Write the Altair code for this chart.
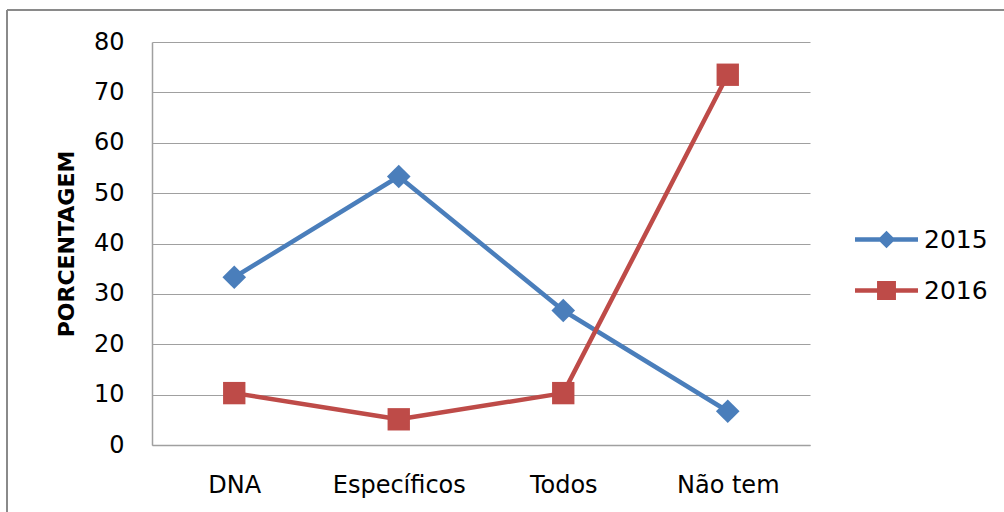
import altair as alt
import pandas as pd

# Categories on the x axis and the two yearly series (percent)
categorias = ["DNA", "Específicos", "Todos", "Não tem"]
anos = ["2015", "2016"]
valores_2015 = [33.3, 53.3, 26.7, 6.7]
valores_2016 = [10.3, 5.1, 10.3, 73.5]
ticks_y = [0, 10, 20, 30, 40, 50, 60, 70, 80]
cores = ["#4A7EBB", "#BE4B48"]

linhas = []
for ano, vals in zip(anos, [valores_2015, valores_2016]):
    for cat, v in zip(categorias, vals):
        linhas.append({"Categoria": cat, "Ano": ano, "Valor": v})
df = pd.DataFrame(linhas)

FONTE = "DejaVu Sans"
W, H = 658, 403
PAD_L, PAD_T = 152, 42

# legend symbols: a horizontal line with the series marker in the middle
simbolo_losango = "M-1,-0.07H1V0.07H-1Z M0,-0.28L0.28,0L0,0.28L-0.28,0Z"
simbolo_quadrado = "M-1,-0.07H1V0.07H-1Z M-0.3,-0.3H0.3V0.3H-0.3Z"

x_enc = alt.X(
    "Categoria:N",
    sort=categorias,
    scale=alt.Scale(type="point", padding=0.5),
    axis=alt.Axis(
        title=None, labelAngle=0, ticks=False, grid=False,
        domainColor="#a0a0a0", domainWidth=1.5,
        labelFont=FONTE, labelFontSize=24, labelColor="#000000", labelPadding=28,
    ),
)
y_enc = alt.Y(
    "Valor:Q",
    scale=alt.Scale(domain=[0, 80], nice=False),
    axis=alt.Axis(
        values=ticks_y, ticks=False, grid=True, gridColor="#a0a0a0", gridWidth=1.2,
        domainColor="#a0a0a0", domainWidth=1.5,
        labelFont=FONTE, labelFontSize=24, labelColor="#000000", labelPadding=28,
        title="PORCENTAGEM", titleFont=FONTE, titleFontSize=22, titleFontWeight="bold",
        titleColor="#000000", titleX=-86, titleY=H / 2, titleAngle=-90,
        titleAlign="center", titleBaseline="middle",
    ),
)

base = alt.Chart(df)

linha = base.mark_line(strokeWidth=4.5, strokeJoin="round").encode(
    x=x_enc, y=y_enc,
    color=alt.Color("Ano:N", scale=alt.Scale(domain=anos, range=cores), legend=None),
)

pontos = base.mark_point(filled=True, opacity=1, strokeWidth=0).encode(
    x=x_enc, y=y_enc,
    color=alt.Color("Ano:N", scale=alt.Scale(domain=anos, range=cores), legend=None),
    shape=alt.Shape("Ano:N", scale=alt.Scale(domain=anos, range=["diamond", "square"]), legend=None),
    size=alt.Size("Ano:N", scale=alt.Scale(domain=anos, range=[560, 500]), legend=None),
)

legenda_cfg = alt.Legend(
    title=None, orient="none", legendX=703, legendY=166,
    symbolSize=3969, symbolOpacity=1, symbolStrokeWidth=0,
    labelFont=FONTE, labelFontSize=25, labelColor="#000000", labelOffset=6,
    rowPadding=6,
)
legenda = base.mark_point(filled=True, opacity=0).transform_calculate(
    Serie="datum.Ano"
).encode(
    x=x_enc, y=y_enc,
    color=alt.Color("Serie:N", scale=alt.Scale(domain=anos, range=cores), legend=legenda_cfg),
    shape=alt.Shape("Serie:N", scale=alt.Scale(domain=anos, range=[simbolo_losango, simbolo_quadrado]),
                    legend=legenda_cfg),
)

# outer frame of the chart box (left and top edges)
um = alt.Chart(pd.DataFrame({"k": [0]}))
moldura_esq = um.mark_rule(color="#8a8a8a", strokeWidth=2, clip=False).encode(
    x=alt.value(7 - PAD_L), y=alt.value(10 - PAD_T), y2=alt.value(520 - PAD_T)
)
moldura_topo = um.mark_rule(color="#8a8a8a", strokeWidth=2, clip=False).encode(
    x=alt.value(7 - PAD_L), x2=alt.value(1010 - PAD_L), y=alt.value(10 - PAD_T)
)

chart = (
    alt.layer(moldura_esq, moldura_topo, linha, pontos, legenda)
    .resolve_scale(color="independent", shape="independent")
    .properties(
        width=W, height=H,
        autosize=alt.AutoSizeParams(type="none"),
        padding={"left": PAD_L, "top": PAD_T, "right": 1004 - PAD_L - W, "bottom": 512 - PAD_T - H},
        background="#ffffff",
    )
    .configure_view(stroke=None)
)

chart.save("out.html", embed_options={"renderer": "svg", "actions": False})
